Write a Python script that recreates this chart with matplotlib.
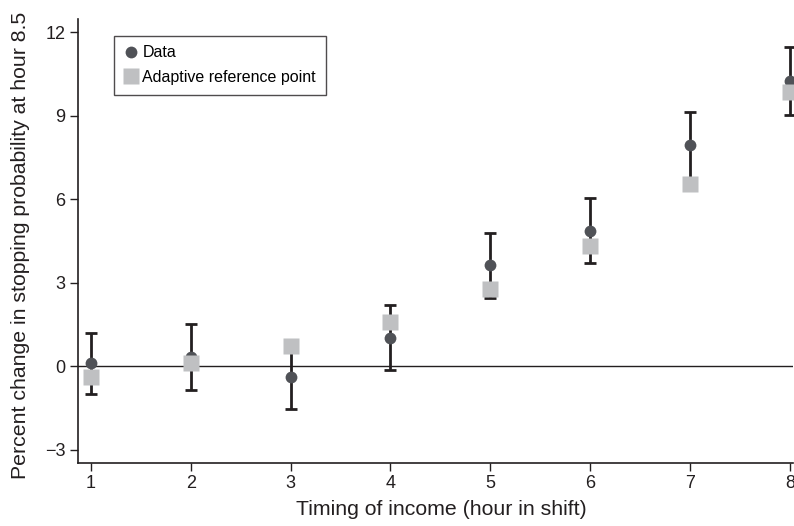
import matplotlib.pyplot as plt

plt.rcParams['font.family'] = ['Liberation Sans', 'DejaVu Sans']

horas = [1, 2, 3, 4, 5, 6, 7, 8]
dados = [0.10, 0.33, -0.38, 1.03, 3.62, 4.86, 7.94, 10.25]
erro_inf = [-1.00, -0.84, -1.55, -0.12, 2.45, 3.71, 6.76, 9.01]
erro_sup = [1.20, 1.53, 0.79, 2.19, 4.79, 6.04, 9.12, 11.47]
referencia = [-0.38, 0.10, 0.74, 1.60, 2.79, 4.31, 6.54, 9.86]
yticks = [-3, 0, 3, 6, 9, 12]

fig = plt.figure(figsize=(7.94, 5.26), dpi=100)
ax = fig.add_axes([0.098, 0.12, 0.9005, 0.844])

baixo = [d - e for d, e in zip(dados, erro_inf)]
cima = [e - d for d, e in zip(dados, erro_sup)]

ax.axhline(0, color='#231f20', lw=1.0, zorder=1)
ax.errorbar(horas, dados, yerr=[baixo, cima], fmt='none', ecolor='#231f20',
            elinewidth=2, capsize=4.5, capthick=2, zorder=2)
ax.plot(horas, dados, 'o', color='#505257', ms=8.5, mec='none', zorder=3, label='Data')
ax.plot(horas, referencia, 's', color='#bfc0c2', ms=11.5, mec='none', zorder=4,
        label='Adaptive reference point')

ax.set_xlim(0.87, 8.03)
ax.set_ylim(-3.47, 12.47)
ax.set_xticks(horas)
ax.set_yticks(yticks)
ax.set_yticklabels(['\u22123' if t == -3 else str(t) for t in yticks])
ax.tick_params(labelsize=13, length=6, width=1, pad=3, color='#231f20', labelcolor='#231f20')
for s in ['top', 'right']:
    ax.spines[s].set_visible(False)
for s in ['left', 'bottom']:
    ax.spines[s].set_color('#231f20')
    ax.spines[s].set_linewidth(1.2)

ax.set_xlabel('Timing of income (hour in shift)', fontsize=15.3, color='#231f20')
ax.set_ylabel('Percent change in stopping probability at hour 8.5', fontsize=15.3,
              color='#231f20')
ax.xaxis.set_label_coords(0.509, -0.083)
ax.yaxis.set_label_coords(-0.067, 0.49)

leg = ax.legend(loc='upper left', bbox_to_anchor=(0.05, 0.962), fontsize=11.5,
                frameon=True, fancybox=False, edgecolor='#231f20', borderpad=0.6,
                handletextpad=0.2, handlelength=1.0, labelspacing=0.6, borderaxespad=0)
leg.get_frame().set_linewidth(1.0)

fig.savefig('out.png', dpi=100)
